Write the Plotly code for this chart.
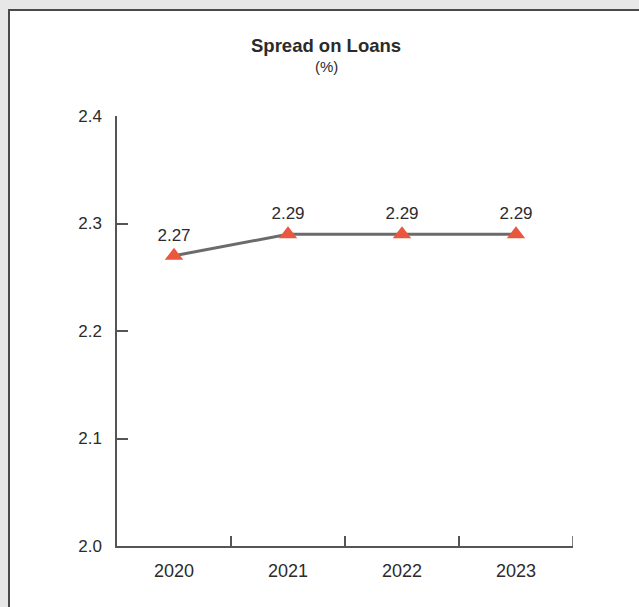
import plotly.graph_objects as go

# Spread on loans by year (%)
years = ["2020", "2021", "2022", "2023"]
spread = [2.27, 2.29, 2.29, 2.29]
y_ticks = [2.0, 2.1, 2.2, 2.3, 2.4]

W, H = 639, 607
ML, MR, MT, MB = 117, 66, 116, 61
plot_w = W - ML - MR
plot_h = H - MT - MB

def px_to_paper_x(px):
    return (px - ML) / plot_w

def px_to_paper_y(py):
    return (H - MB - py) / plot_h

text_col = "#2b2b2b"
axis_col = "#555555"
font_family = "Liberation Sans, Arial, sans-serif"

fig = go.Figure()
fig.add_trace(go.Scatter(
    x=years,
    y=spread,
    mode="lines+markers+text",
    line=dict(color="#6b6b6e", width=3),
    marker=dict(symbol="triangle-up", size=16, color="#e8573e"),
    text=[f"{v:.2f}" for v in spread],
    textposition="top center",
    textfont=dict(family=font_family, size=17, color=text_col),
    cliponaxis=False,
    hoverinfo="skip",
))

# White framed panel on a light grey page
fig.add_shape(
    type="rect", xref="paper", yref="paper", layer="below",
    x0=px_to_paper_x(9), x1=px_to_paper_x(W + 50),
    y0=px_to_paper_y(H + 50), y1=px_to_paper_y(10),
    fillcolor="white", line=dict(color="#4a4a4a", width=2),
)

# Closing tick at the right end of the category axis
fig.add_shape(
    type="line", xref="x", yref="paper",
    x0=len(years) - 0.5, x1=len(years) - 0.5,
    y0=0, y1=10 / plot_h,
    line=dict(color=axis_col, width=1.5),
)

fig.add_annotation(
    text="<b>Spread on Loans</b>", xref="paper", yref="paper",
    x=px_to_paper_x(326), y=px_to_paper_y(45), showarrow=False,
    xanchor="center", yanchor="middle",
    font=dict(family=font_family, size=18.5, color=text_col),
)
fig.add_annotation(
    text="(%)", xref="paper", yref="paper",
    x=px_to_paper_x(326), y=px_to_paper_y(66), showarrow=False,
    xanchor="center", yanchor="middle",
    font=dict(family=font_family, size=15, color=text_col),
)

fig.update_layout(
    width=W, height=H,
    margin=dict(l=ML, r=MR, t=MT, b=MB),
    paper_bgcolor="#e7e7e7",
    plot_bgcolor="rgba(0,0,0,0)",
    showlegend=False,
    xaxis=dict(
        type="category", range=[-0.5, 3.5],
        showline=True, linecolor=axis_col, linewidth=1.5,
        ticks="inside", tickson="boundaries", ticklen=10,
        tickcolor=axis_col, tickwidth=1.5,
        showgrid=False, zeroline=False,
        tickfont=dict(family=font_family, size=18, color=text_col),
        ticklabelstandoff=8,
    ),
    yaxis=dict(
        range=[2.0, 2.4], tickvals=y_ticks, tickformat=".1f",
        showline=True, linecolor=axis_col, linewidth=1.5,
        ticks="inside", ticklen=11, tickcolor=axis_col, tickwidth=1.5,
        showgrid=False, zeroline=False,
        tickfont=dict(family=font_family, size=17, color=text_col),
        ticklabelstandoff=10,
    ),
)

fig.write_html("out.html")
